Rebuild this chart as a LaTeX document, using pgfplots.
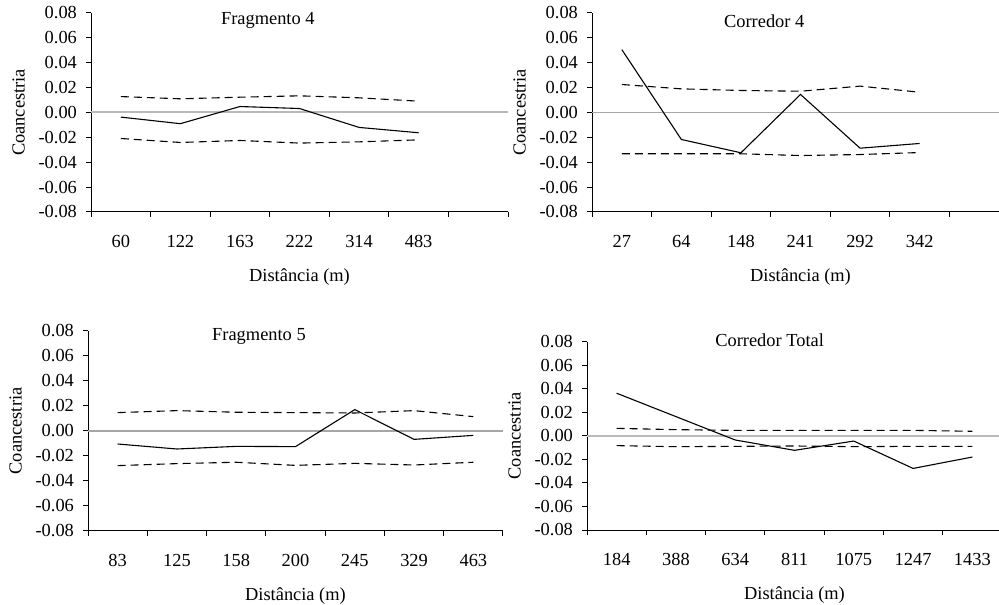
\documentclass[border=0pt]{standalone}
\usepackage{pgfplots}
\pgfplotsset{compat=1.18}
\usepackage{fontspec}
\setmainfont{Liberation Serif}

\newcommand{\chfont}{\fontsize{9.2}{11}\selectfont}

\pgfplotsset{
  coan/.style={
    scale only axis,
    axis lines=left,
    axis line style={-, line width=0.5pt},
    xmin=0, xmax=7,
    ymin=-0.08, ymax=0.08,
    ytick={-0.08,-0.06,...,0.081},
    scaled y ticks=false,
    xtick={0,...,7},
    xticklabels={},
    tick align=outside,
    major tick length=2.5pt,
    tick style={black, line width=0.5pt},
    /pgf/number format/assume math mode=true,
    yticklabel style={xshift=-1pt, /pgf/number format/fixed, /pgf/number format/fixed zerofill, /pgf/number format/precision=2},
    tick label style={font=\chfont},
    label style={font=\chfont},
    xlabel={Distância (m)},
    ylabel={Coancestria},
    xlabel style={yshift=-1pt},
    ylabel style={yshift=0pt},
    title style={font=\chfont},
    clip=false,
  },
  obs/.style={black, line width=0.55pt},
  env/.style={black, line width=0.55pt, dash pattern=on 4pt off 2.5pt},
  zero/.style={gray!55, line width=1pt},
}

\begin{document}
\begin{tikzpicture}
\path[use as bounding box] (0,0) rectangle (499.5pt,302pt);

% Fragmento 4
\begin{axis}[coan, at={(45.5pt,196pt)}, anchor=south west, width=208.5pt, height=99.5pt,
  extra x ticks={0.5,1.5,2.5,3.5,4.5,5.5},
  extra x tick labels={60,122,163,222,314,483},
  extra x tick style={major tick length=0pt, xticklabel style={yshift=-8pt}},
  title={Fragmento 4}, title style={at={(axis description cs:0.424,0.90)}, anchor=center}]
  \addplot[zero] coordinates {(0,0) (7,0)};
  \addplot[env] coordinates {(0.5,0.0128) (1.5,0.0110) (2.5,0.0123) (3.5,0.0134) (4.5,0.0118) (5.5,0.0091)};
  \addplot[env] coordinates {(0.5,-0.0209) (1.5,-0.0241) (2.5,-0.0225) (3.5,-0.0246) (4.5,-0.0236) (5.5,-0.0220)};
  \addplot[obs] coordinates {(0.5,-0.0037) (1.5,-0.0090) (2.5,0.0048) (3.5,0.0032) (4.5,-0.0120) (5.5,-0.0163)};
\end{axis}

% Corredor 4
\begin{axis}[coan, at={(296pt,196pt)}, anchor=south west, width=208.5pt, height=99.5pt,
  extra x ticks={0.5,1.5,2.5,3.5,4.5,5.5},
  extra x tick labels={27,64,148,241,292,342},
  extra x tick style={major tick length=0pt, xticklabel style={yshift=-8pt}},
  title={Corredor 4}, title style={at={(axis description cs:0.413,0.90)}, anchor=center}]
  \addplot[zero, gray!70, line width=0.6pt] coordinates {(0,0) (7,0)};
  \addplot[env] coordinates {(0.5,0.0225) (1.5,0.0190) (2.5,0.0177) (3.5,0.0171) (4.5,0.0212) (5.5,0.0163)};
  \addplot[env] coordinates {(0.5,-0.0332) (1.5,-0.0332) (2.5,-0.0332) (3.5,-0.0346) (4.5,-0.0338) (5.5,-0.0322)};
  \addplot[obs] coordinates {(0.5,0.0506) (1.5,-0.0217) (2.5,-0.0324) (3.5,0.0145) (4.5,-0.0287) (5.5,-0.0249)};
\end{axis}

% Fragmento 5
\begin{axis}[coan, at={(44pt,36.5pt)}, anchor=south west, width=207.5pt, height=100pt,
  extra x ticks={0.5,1.5,2.5,3.5,4.5,5.5,6.5},
  extra x tick labels={83,125,158,200,245,329,463},
  extra x tick style={major tick length=0pt, xticklabel style={yshift=-8pt}},
  title={Fragmento 5}, title style={at={(axis description cs:0.412,0.915)}, anchor=center}]
  \addplot[zero, gray!70, line width=0.6pt] coordinates {(0,0) (7,0)};
  \addplot[env] coordinates {(0.5,0.0147) (1.5,0.0163) (2.5,0.0150) (3.5,0.0147) (4.5,0.0144) (5.5,0.0163) (6.5,0.0115)};
  \addplot[env] coordinates {(0.5,-0.0277) (1.5,-0.0261) (2.5,-0.0250) (3.5,-0.0275) (4.5,-0.0259) (5.5,-0.0272) (6.5,-0.0250)};
  \addplot[obs] coordinates {(0.5,-0.0104) (1.5,-0.0144) (2.5,-0.0123) (3.5,-0.0125) (4.5,0.0171) (5.5,-0.0067) (6.5,-0.0035)};
\end{axis}

% Corredor Total
\begin{axis}[coan, at={(293.5pt,37pt)}, anchor=south west, width=207.5pt, height=94pt,
  extra x ticks={0.5,1.5,2.5,3.5,4.5,5.5,6.5},
  extra x tick labels={184,388,634,811,1075,1247,1433},
  extra x tick style={major tick length=0pt, xticklabel style={yshift=-8pt}},
  title={Corredor Total}, title style={at={(axis description cs:0.44,0.947)}, anchor=center}]
  \addplot[zero] coordinates {(0,0) (7,0)};
  \addplot[env] coordinates {(0.5,0.0065) (1.5,0.0054) (2.5,0.0048) (3.5,0.0048) (4.5,0.0048) (5.5,0.0048) (6.5,0.0040)};
  \addplot[env] coordinates {(0.5,-0.0082) (1.5,-0.0091) (2.5,-0.0088) (3.5,-0.0085) (4.5,-0.0091) (5.5,-0.0088) (6.5,-0.0088)};
  \addplot[obs] coordinates {(0.5,0.0364) (1.5,0.0165) (2.5,-0.0034) (3.5,-0.0122) (4.5,-0.0043) (5.5,-0.0276) (6.5,-0.0179)};
\end{axis}
\end{tikzpicture}
\end{document}
